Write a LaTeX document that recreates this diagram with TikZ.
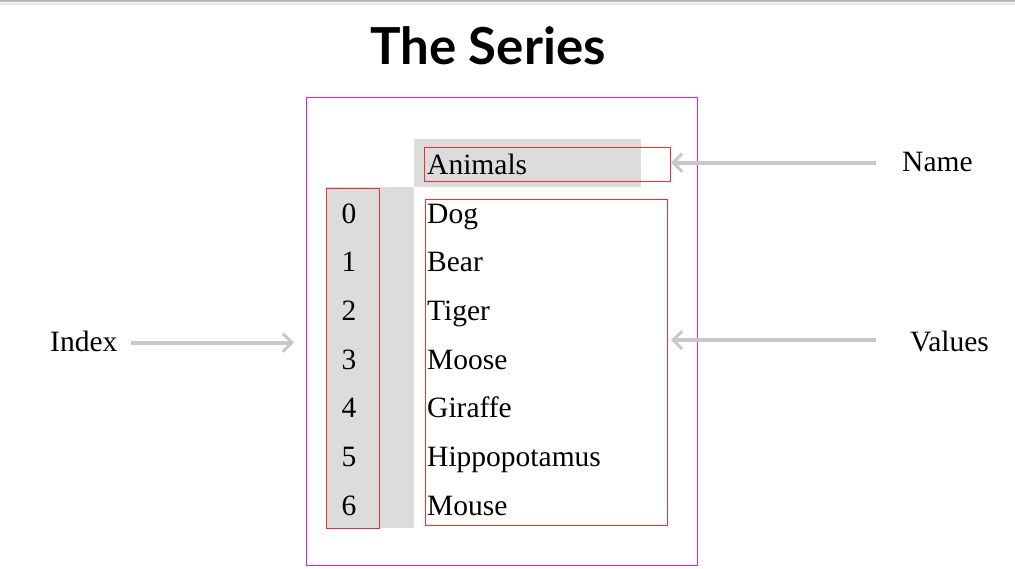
\documentclass[tikz,border=0pt]{standalone}
\usepackage{fontspec}
\setmainfont{Liberation Serif}
\newfontfamily\titlefont{Lato}
\usetikzlibrary{arrows.meta}
\definecolor{cellgray}{HTML}{DCDCDC}
\definecolor{framepink}{HTML}{E020E0}
\definecolor{boxred}{HTML}{F03030}
\definecolor{arrowgray}{HTML}{C8C8C8}
\begin{document}
\begin{tikzpicture}[
    x=1pt, y=-1pt,
    celltext/.style={inner sep=0pt, font=\fontsize{29.5}{30}\selectfont},
    redbox/.style={draw=boxred, line width=0.9pt, inner sep=0pt},
    pointer/.style={draw=arrowgray, line width=4pt, -{Straight Barb[length=9pt,width=18pt,line width=3pt]}}
]
\useasboundingbox (0,0) rectangle (1015,568);
\draw[gray!55, line width=2pt] (0,1) -- (1015,1);
\draw[gray!20, line width=2pt] (0,3.5) -- (1015,3.5);

\node[font=\titlefont\bfseries\fontsize{51}{53}\selectfont, inner sep=0pt](title) at (488,46) {The Series};

\node[draw=framepink, line width=0.9pt, minimum width=391pt, minimum height=468pt, inner sep=0pt, anchor=north west](frame) at (306,97) {};

\fill[cellgray] (414,139) rectangle (641,187);
\fill[cellgray] (326,187) rectangle (414,528);

\node[redbox, minimum width=246pt, minimum height=34pt, anchor=north west](namebox) at (424,147) {};
\node[redbox, minimum width=53pt, minimum height=340pt, anchor=north west](indexbox) at (326,188) {};
\node[redbox, minimum width=242pt, minimum height=326pt, anchor=north west](valuebox) at (425,199) {};

\node[celltext, anchor=base west](animals) at (427,174) {Animals};

\foreach \i/\animal in {0/Dog,1/Bear,2/Tiger,3/Moose,4/Giraffe,5/Hippopotamus,6/Mouse} {
    \node[celltext, anchor=base](i\i) at (349,{223+\i*48.67}) {\i};
    \node[celltext, anchor=base west](v\i) at (427,{223+\i*48.67}) {\animal};
}

\node[celltext, anchor=base west](namelbl) at (902,171.5) {Name};
\node[celltext, anchor=base west](valuelbl) at (910,351.5) {Values};
\node[celltext, anchor=base west](indexlbl) at (50,351.5) {Index};

\coordinate (nametip) at (671,162.7);
\coordinate (valuetip) at (671,340);
\coordinate (indextip) at (294,342.7);

\draw[pointer] (876,162.7) -- (nametip);
\draw[pointer] (876,340) -- (valuetip);
\draw[pointer] (indexlbl.east |- indextip) ++(13,0) -- (indextip);
\end{tikzpicture}
\end{document}
